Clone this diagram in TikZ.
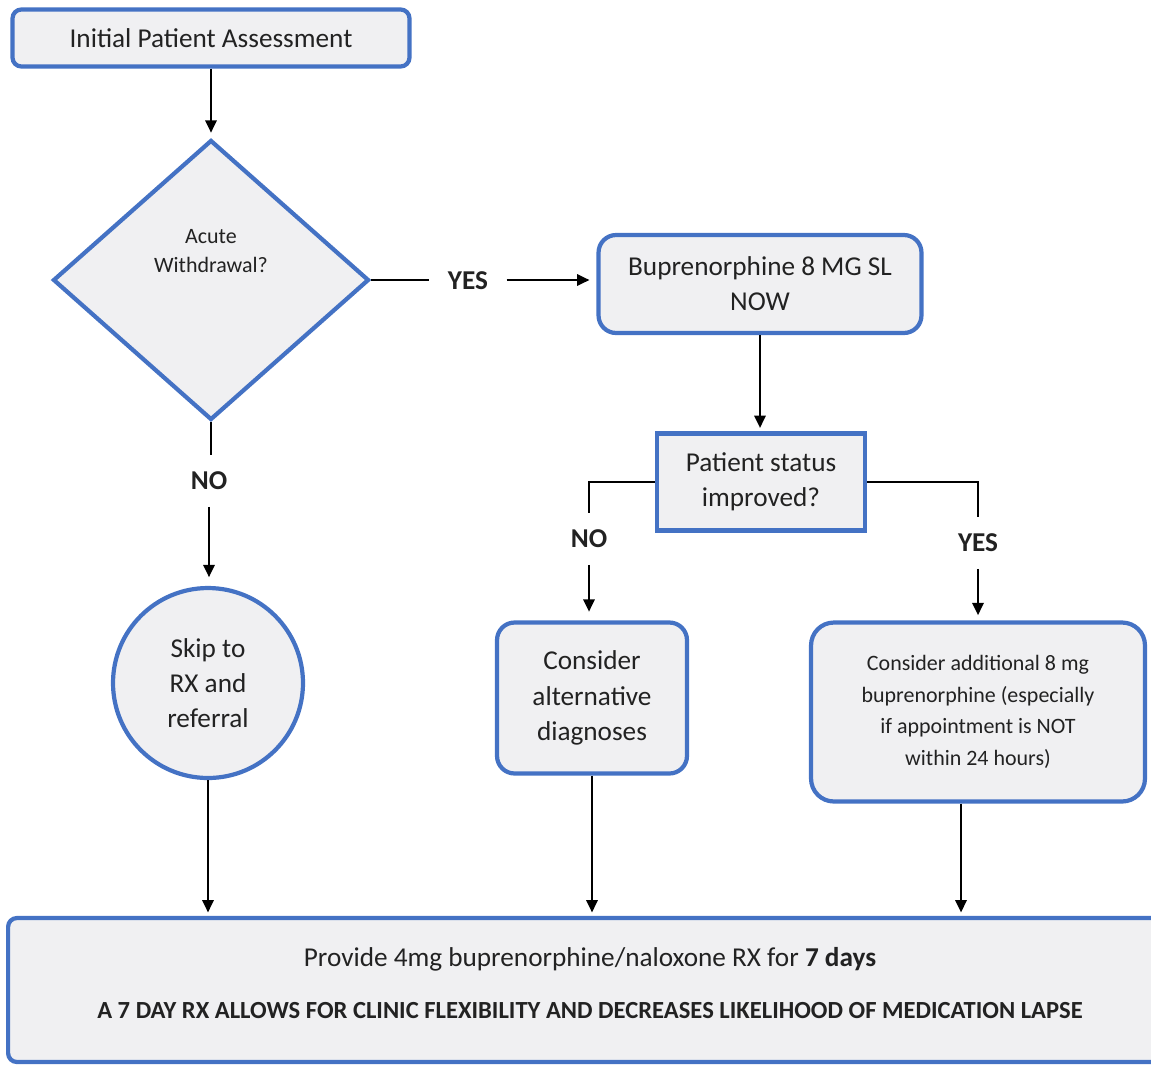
\documentclass[tikz,border=0pt]{standalone}
\usepackage{fontspec}
\setmainfont{Carlito}
\usepackage{xcolor}
\usepackage{tikz}
\usetikzlibrary{shapes,positioning,arrows.meta}
\definecolor{boxblue}{HTML}{4472C4}
\definecolor{boxfill}{HTML}{F0F0F2}
\definecolor{ink}{HTML}{222222}
\tikzset{box/.style={rectangle,rounded corners=10pt,draw=boxblue,fill=boxfill,line width=2.4pt,text=ink,align=center,font=\fontsize{15.5}{20}\selectfont,inner sep=0pt}}
\tikzset{dia/.style={diamond,draw=boxblue,fill=boxfill,line width=2.4pt,inner sep=0pt}}
\tikzset{circ/.style={circle,draw=boxblue,fill=boxfill,line width=2.4pt,text=ink,align=center,font=\fontsize{15.5}{20}\selectfont,inner sep=0pt}}
\tikzset{lbl/.style={text=ink,font=\bfseries\fontsize{15.5}{18}\selectfont,inner xsep=10pt,inner ysep=9pt}}

\begin{document}
\begin{tikzpicture}[>={Triangle[length=7pt,width=6.5pt]},x=0.02cm,y=-0.02cm,line width=1.1pt]
    \useasboundingbox (0,0) rectangle (1151,1065);
    \clip (0,0) rectangle (1151,1065);

    \node[box,rounded corners=5pt,minimum width=7.94cm,minimum height=1.14cm] (init) at (211,38) {Initial Patient Assessment};
    \node[dia,minimum width=6.32cm,minimum height=5.6cm,
          label={[text=ink,align=center,font=\fontsize{12.5}{16}\selectfont,yshift=0.58cm]center:{Acute\\Withdrawal?}}] (acute) at (211,280) {};
    \node[box,minimum width=6.46cm,minimum height=1.96cm] (bup) at (760,284) {Buprenorphine 8 MG SL\\NOW};
    \node[box,sharp corners,minimum width=4.16cm,minimum height=1.94cm] (stat) at (761,482) {Patient status\\improved?};
    \node[circ,minimum size=3.8cm] (skip) at (208,683) {Skip to\\RX and\\referral};
    \node[box,minimum width=3.8cm,minimum height=3.02cm] (alt) at (592,698) {Consider\\alternative\\diagnoses};
    \node[box,rounded corners=13pt,font=\fontsize{12.5}{18}\selectfont,minimum width=6.68cm,minimum height=3.58cm] (add) at (978,712) {Consider additional 8 mg\\buprenorphine (especially\\if appointment is NOT\\within 24 hours)};
    \node[box,rounded corners=5pt,minimum width=23.28cm,minimum height=2.88cm] (rx) at (590,990) {Provide 4mg buprenorphine/naloxone RX for \textbf{7 days}\\[10pt]{\bfseries\fontsize{14}{16}\selectfont A 7 DAY RX ALLOWS FOR CLINIC FLEXIBILITY AND DECREASES LIKELIHOOD OF MEDICATION LAPSE\rule[-8pt]{0pt}{8pt}}};

    \node[lbl] (yes1) at (468,281) {YES};
    \node[lbl] (no1) at (209,481) {NO};
    \node[lbl] (no2) at (589,539) {NO};
    \node[lbl] (yes2) at (978,543) {YES};

    \draw [->,shorten >=3pt] (init) to (init |- acute.north);
    \draw [] (acute.east) to (acute.east -| yes1.west);
    \draw [->,shorten >=4pt] (acute.east -| yes1.east) to (acute.east -| bup.west);
    \draw [->,shorten >=2pt] (bup) to (bup |- stat.north);
    \draw [] (acute.south) to (acute.south |- no1.north);
    \draw [->,shorten >=5pt] (no1.south) to (no1.south |- skip.north);
    \draw [] (stat.west) -| (no2.north);
    \draw [->,shorten >=5pt] (no2.south) to (no2.south |- alt.north);
    \draw [] (stat.east) -| (yes2.north);
    \draw [->,shorten >=3pt] (yes2.south) to (yes2.south |- add.north);
    \draw [->,shorten >=2pt] (skip.south) to (skip.south |- rx.north);
    \draw [->,shorten >=2pt] (alt.south) to (alt.south |- rx.north);
    \draw [->,shorten >=2pt] ([xshift=-0.34cm]add.south) to ([xshift=-0.34cm]add.south |- rx.north);
\end{tikzpicture}
\end{document}
